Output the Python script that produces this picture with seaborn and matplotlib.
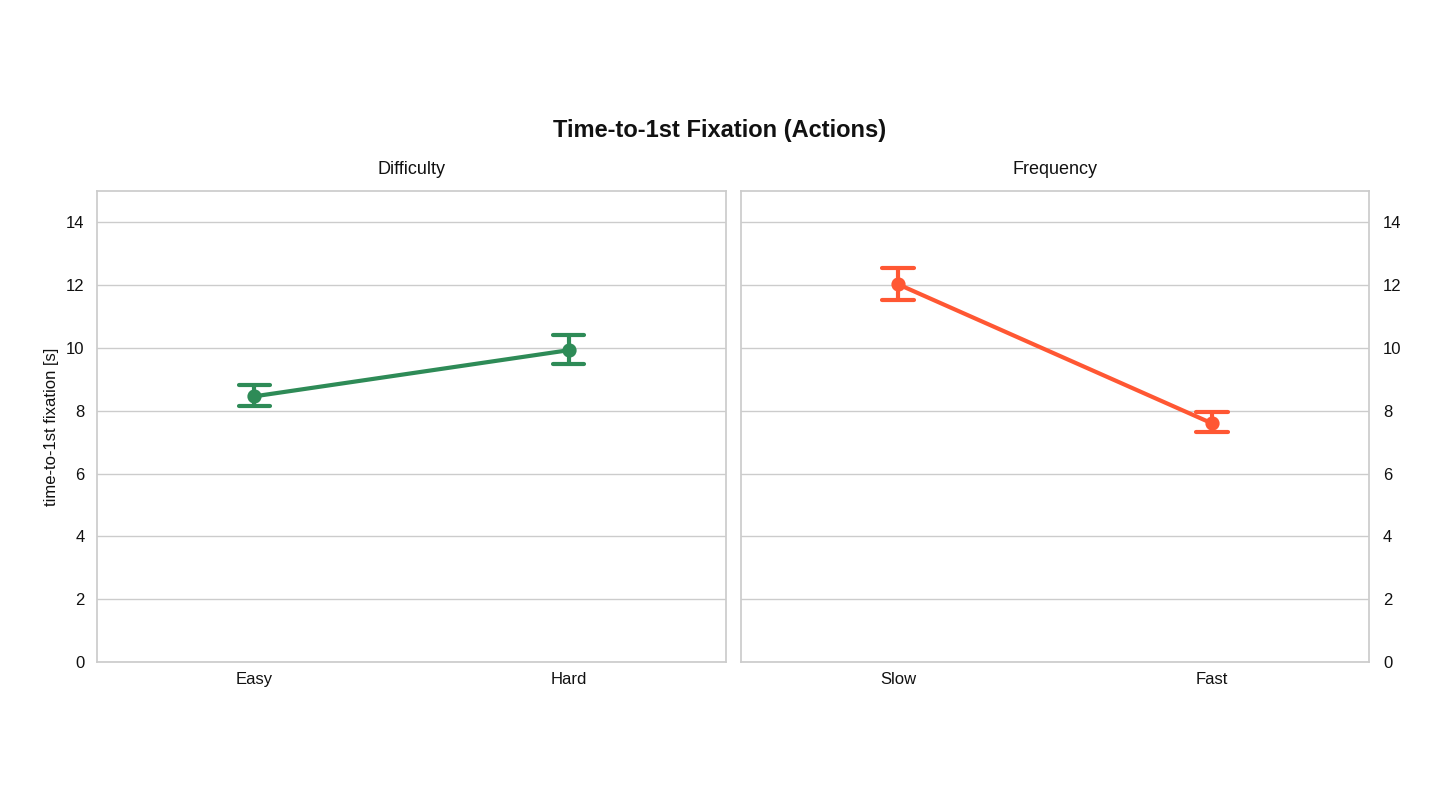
import matplotlib
matplotlib.use("Agg")
import matplotlib.pyplot as plt
import seaborn as sns
import pandas as pd

# Data
diff_cats = ["Easy", "Hard"]
diff_mean = [8.46, 9.93]
diff_low = [8.15, 9.48]
diff_high = [8.81, 10.40]

freq_cats = ["Slow", "Fast"]
freq_mean = [12.03, 7.60]
freq_low = [11.52, 7.32]
freq_high = [12.54, 7.95]

yticks = [0, 2, 4, 6, 8, 10, 12, 14]

sns.set_theme(style="whitegrid")
plt.rcParams['font.family'] = ['Liberation Sans', 'DejaVu Sans']


def make_df(cats, low, mean, high):
    rows = []
    for c, l, m, h in zip(cats, low, mean, high):
        for v in (l, m, h):
            rows.append({"cond": c, "val": v})
    return pd.DataFrame(rows)


fig = plt.figure(figsize=(14.4, 8.07), dpi=100)
ax1 = fig.add_axes([97 / 1440, 1 - 662 / 807, 629 / 1440, 471 / 807])
ax2 = fig.add_axes([741 / 1440, 1 - 662 / 807, 628 / 1440, 471 / 807])

rng_err = lambda x: (x.min(), x.max())

for ax, cats, low, mean, high, color, title in [
    (ax1, diff_cats, diff_low, diff_mean, diff_high, "#2E8B57", "Difficulty"),
    (ax2, freq_cats, freq_low, freq_mean, freq_high, "#FF5733", "Frequency"),
]:
    df = make_df(cats, low, mean, high)
    sns.pointplot(data=df, x="cond", y="val", order=cats, estimator="median",
                  errorbar=rng_err, color=color, capsize=0.1,
                  linewidth=3, markersize=8, ax=ax)
    ax.set_ylim(0, 15)
    ax.set_yticks(yticks)
    ax.set_xlim(-0.5, 1.5)
    ax.set_xlabel("")
    ax.set_title(title, fontsize=13, pad=12, color="#111111")
    ax.grid(axis="x", visible=False)
    ax.grid(axis="y", color="#cccccc", linewidth=1)
    for s in ax.spines.values():
        s.set_color("#cccccc")
    ax.tick_params(axis="both", labelsize=12, colors="#111111", length=0)
    ax.tick_params(axis="x", pad=7)

ax1.set_ylabel("time-to-1st fixation [s]", fontsize=12, color="#111111", labelpad=5)
ax2.set_ylabel("")
ax2.yaxis.tick_right()
ax2.tick_params(axis="y", labelright=True, labelleft=False, pad=10)
ax1.tick_params(axis="y", pad=9)

fig.text(0.5, 1 - 131 / 807, "Time-to-1st Fixation (Actions)", ha="center",
         va="center", fontsize=17, fontweight="bold", color="#111111")

fig.savefig("out.png", dpi=100)
